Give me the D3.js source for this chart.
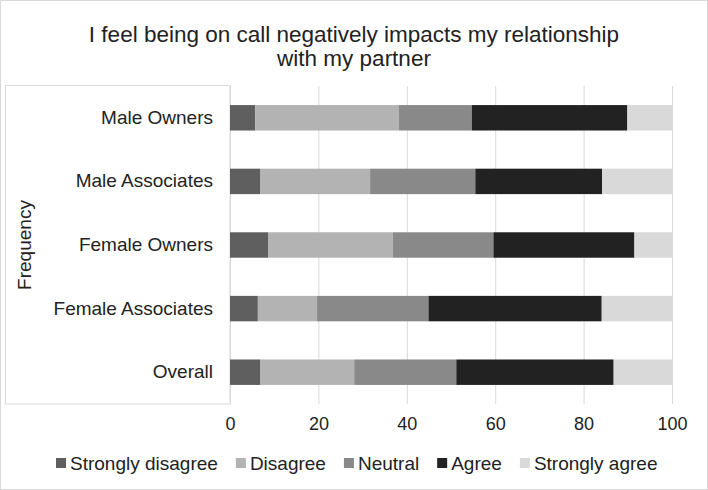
<!DOCTYPE html>
<html>
<head>
<meta charset="utf-8">
<script src="https://cdn.jsdelivr.net/npm/d3@7"></script>
<style>
  html, body { margin: 0; padding: 0; background: #fff; }
  svg { display: block; font-family: "Liberation Sans", Arial, sans-serif; }
</style>
</head>
<body>
<svg id="chart" width="708" height="490"></svg>
<script>
const titleLines = ["I feel being on call negatively impacts my relationship", "with my partner"];
const categories = ["Male Owners", "Male Associates", "Female Owners", "Female Associates", "Overall"];
const seriesNames = ["Strongly disagree", "Disagree", "Neutral", "Agree", "Strongly agree"];
const seriesColors = ["#5f5f5f", "#b3b3b3", "#898989", "#222222", "#d9d9d9"];
const stronglyDisagree = [5.7, 6.9, 8.6, 6.3, 6.9];
const disagree = [32.5, 24.8, 28.2, 13.4, 21.2];
const neutral = [16.5, 23.8, 22.8, 25.2, 23.1];
const agree = [35.2, 28.7, 31.9, 39.2, 35.6];
const stronglyAgree = [10.1, 15.8, 8.5, 15.9, 13.2];
const xTicks = [0, 20, 40, 60, 80, 100];
const yAxisTitle = "Frequency";

const seriesValues = [stronglyDisagree, disagree, neutral, agree, stronglyAgree];
const rows = categories.map((c, i) => {
  const r = { category: c };
  seriesNames.forEach((s, j) => r[s] = seriesValues[j][i]);
  return r;
});

const svg = d3.select("#chart");
const W = 708, H = 490;
const plot = { left: 230, right: 672, top: 86, bottom: 404 };

// outer border
svg.append("rect").attr("x", 0.5).attr("y", 0.5).attr("width", W - 1).attr("height", H - 1)
  .attr("fill", "#fff").attr("stroke", "#d9d9d9");

const x = d3.scaleLinear().domain([0, 100]).range([plot.left, plot.right]);
const y = d3.scaleBand().domain(categories).range([plot.top, plot.bottom])
  .paddingInner(0.6).paddingOuter(0.3);

// label box on the left
svg.append("rect").attr("x", 5.5).attr("y", plot.top - 0.5)
  .attr("width", plot.left - 5.5).attr("height", plot.bottom - plot.top + 0.5)
  .attr("fill", "none").attr("stroke", "#d9d9d9");

// gridlines
svg.append("g").selectAll("line").data(xTicks).join("line")
  .attr("x1", d => x(d) + 0.5).attr("x2", d => x(d) + 0.5)
  .attr("y1", plot.top).attr("y2", plot.bottom)
  .attr("stroke", "#d9d9d9").attr("stroke-width", 1);

// stacked bars
const stack = d3.stack().keys(seriesNames)(rows);
const color = d3.scaleOrdinal().domain(seriesNames).range(seriesColors);
svg.append("g").selectAll("g").data(stack).join("g")
  .attr("fill", d => color(d.key))
  .selectAll("rect").data(d => d).join("rect")
  .attr("x", d => x(d[0]))
  .attr("width", d => x(d[1]) - x(d[0]))
  .attr("y", d => y(d.data.category))
  .attr("height", y.bandwidth());

// x axis
const xAxis = svg.append("g").attr("transform", `translate(0,${plot.bottom})`)
  .call(d3.axisBottom(x).tickValues(xTicks).tickSize(0).tickPadding(13).tickFormat(d3.format("d")));
xAxis.select(".domain").remove();
xAxis.selectAll("text").attr("font-size", 18).attr("fill", "#222")
  .attr("font-family", "Liberation Sans, Arial, sans-serif");

// y axis
const yAxis = svg.append("g").attr("transform", `translate(${plot.left},0)`)
  .call(d3.axisLeft(y).tickSize(0).tickPadding(17));
yAxis.select(".domain").remove();
yAxis.selectAll("text").attr("font-size", 19).attr("fill", "#222")
  .attr("font-family", "Liberation Sans, Arial, sans-serif");

// y axis title
svg.append("text").attr("transform", `translate(24,${(plot.top + plot.bottom) / 2}) rotate(-90)`)
  .attr("text-anchor", "middle").attr("dominant-baseline", "central")
  .attr("font-size", 19).attr("fill", "#222").text(yAxisTitle);

// title
svg.append("g").selectAll("text").data(titleLines).join("text")
  .attr("x", W / 2).attr("y", (d, i) => 42 + i * 24)
  .attr("text-anchor", "middle").attr("font-size", 22.5).attr("fill", "#222")
  .text(d => d);

// legend
const legend = svg.append("g");
let lx = 56;
seriesNames.forEach((name, i) => {
  const g = legend.append("g");
  g.append("rect").attr("x", lx).attr("y", 458).attr("width", 10).attr("height", 10).attr("fill", seriesColors[i]);
  const t = g.append("text").attr("x", lx + 14).attr("y", 470)
    .attr("font-size", 19).attr("fill", "#222").text(name);
  lx += 14 + t.node().getComputedTextLength() + 18;
});
</script>
</body>
</html>
